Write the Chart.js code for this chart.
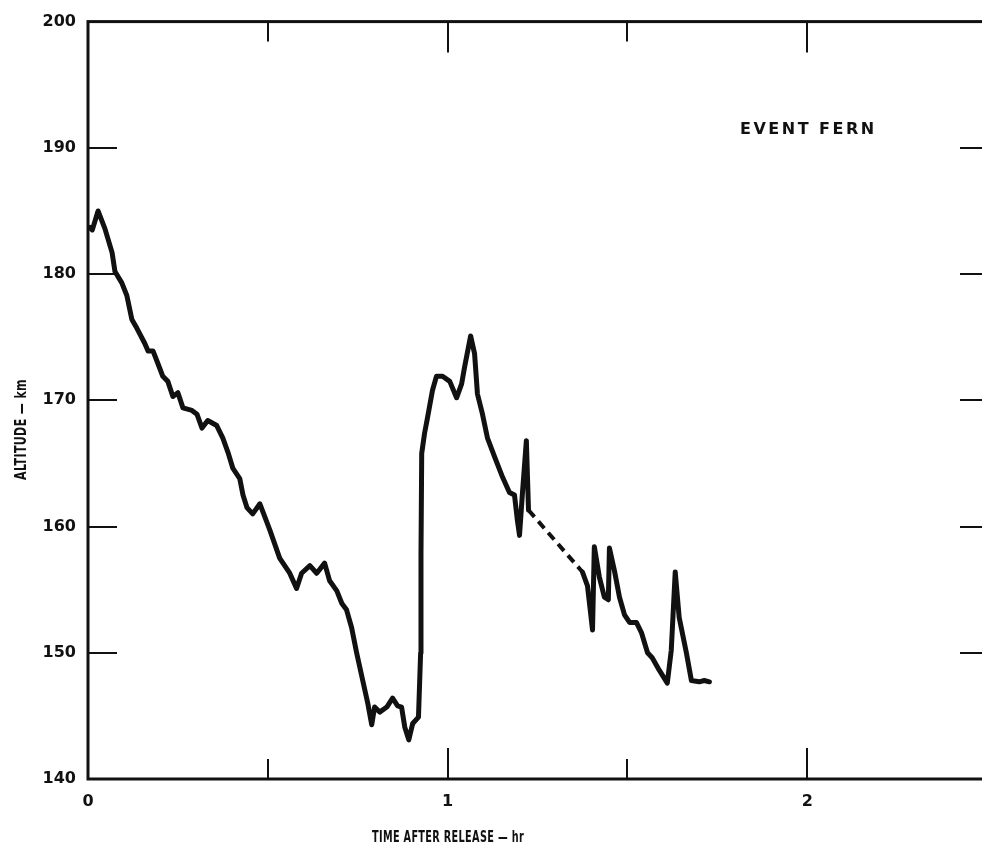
<!DOCTYPE html>
<html>
<head>
<meta charset="utf-8">
<script src="https://cdn.jsdelivr.net/npm/chart.js@4"></script>
<style>
  html, body { margin: 0; padding: 0; background: #fff; overflow: hidden; }
  #wrap { position: absolute; left: 0; top: 0; width: 1000px; height: 847px; }
</style>
</head>
<body>
<div id="wrap"><canvas id="myChart" width="1000" height="847"></canvas></div>
<script>
'use strict'

// altitude trace, time in hours after release, altitude in km (null = dashed gap)
const timeHr = [
  0.005, 0.012, 0.028, 0.047, 0.067, 0.075, 0.094, 0.108, 0.122, 0.136,
  0.158, 0.167, 0.181, 0.200, 0.208, 0.222, 0.236, 0.250, 0.264, 0.289,
  0.303, 0.317, 0.333, 0.358, 0.375, 0.389, 0.403, 0.422, 0.431, 0.442,
  0.458, 0.478, 0.506, 0.533, 0.561, 0.580, 0.594, 0.617, 0.636, 0.658,
  0.672, 0.692, 0.706, 0.719, 0.733, 0.747, 0.764, 0.778, 0.789, 0.797,
  0.811, 0.831, 0.847, 0.861, 0.872, 0.881, 0.892, 0.903, 0.919, 0.925,
  0.926, 0.928, 0.936, 0.944, 0.958, 0.969, 0.986, 1.006, 1.025, 1.039,
  1.047, 1.064, 1.075, 1.083, 1.097, 1.111, 1.131, 1.153, 1.172, 1.186,
  1.194, 1.200, 1.208, 1.219, 1.225,
  1.300,
  1.375, 1.389, 1.403, 1.408, 1.422, 1.436, 1.447, 1.450, 1.464, 1.478,
  1.492, 1.506, 1.525, 1.539, 1.556, 1.569, 1.589, 1.611, 1.622, 1.633,
  1.644, 1.664, 1.678, 1.700, 1.714, 1.728
]
const altitudeKm = [
  183.7, 183.5, 185.0, 183.6, 181.7, 180.2, 179.3, 178.3, 176.4, 175.7,
  174.5, 173.9, 173.9, 172.5, 171.9, 171.5, 170.3, 170.6, 169.4, 169.2,
  168.9, 167.8, 168.4, 168.0, 167.0, 165.9, 164.6, 163.8, 162.5, 161.5,
  161.0, 161.8, 159.7, 157.5, 156.3, 155.1, 156.3, 156.9, 156.3, 157.1,
  155.7, 154.9, 153.9, 153.4, 152.0, 150.0, 147.8, 146.0, 144.3, 145.7,
  145.3, 145.7, 146.4, 145.8, 145.7, 144.1, 143.1, 144.4, 144.9, 150.0,
  157.9, 165.8, 167.4, 168.6, 170.8, 171.9, 171.9, 171.5, 170.2, 171.3,
  172.6, 175.1, 173.7, 170.5, 168.9, 167.0, 165.5, 163.9, 162.7, 162.5,
  160.5, 159.3, 162.6, 166.8, 161.3,
  null,
  156.4, 155.3, 151.8, 158.4, 156.0, 154.4, 154.2, 158.3, 156.5, 154.4,
  153.0, 152.4, 152.4, 151.6, 150.0, 149.6, 148.6, 147.6, 150.2, 156.4,
  152.8, 150.0, 147.8, 147.7, 147.8, 147.7
]

// dashed stretch where the trace was not observed
const gapTimeHr = [1.225, 1.375]
const gapAltitudeKm = [161.3, 156.4]

const xTicks = [0, 0.5, 1, 1.5, 2, 2.5]
const xLabels = ['0', '', '1', '', '2', '']
const yTicks = [140, 150, 160, 170, 180, 190, 200]

const toPoints = (xs, ys) => xs.map((x, i) => ({x: x, y: ys[i]}))

const ink = '#111'
const labelFont = 'DejaVu Sans'

// draw text squeezed to a given width, like the narrow lettering of the original
function fitText(ctx, text, x, y, width) {
  const w = ctx.measureText(text).width
  ctx.save()
  ctx.translate(x, y)
  ctx.scale(width / w, 1)
  ctx.fillText(text, 0, 0)
  ctx.restore()
}

const framePlugin = {
  id: 'frame',
  afterDraw(chart) {
    const ctx = chart.ctx
    const a = chart.chartArea
    const xs = chart.scales.x
    const ys = chart.scales.y
    ctx.save()
    ctx.strokeStyle = ink
    ctx.lineWidth = 3
    ctx.strokeRect(a.left, a.top, a.right - a.left, a.bottom - a.top)

    ctx.lineWidth = 2
    ctx.beginPath()
    yTicks.forEach(v => {
      if (v === 140 || v === 200) return
      const py = Math.round(ys.getPixelForValue(v))
      ctx.moveTo(a.left, py); ctx.lineTo(a.left + 29, py)
      ctx.moveTo(a.right, py); ctx.lineTo(a.right - 27, py)
    })
    xTicks.forEach(v => {
      if (v === 0 || v === 2.5) return
      const px = Math.round(xs.getPixelForValue(v))
      const len = Number.isInteger(v) ? 31 : 20
      ctx.moveTo(px, a.bottom); ctx.lineTo(px, a.bottom - len)
      ctx.moveTo(px, a.top); ctx.lineTo(px, a.top + len)
    })
    ctx.stroke()

    ctx.fillStyle = ink
    ctx.textBaseline = 'alphabetic'
    ctx.textAlign = 'left'
    ctx.font = 'bold 16px "' + labelFont + '"'
    ctx.letterSpacing = '2.5px'
    ctx.fillText('EVENT FERN', 740, 134)

    ctx.font = 'bold 15px "' + labelFont + '"'
    ctx.letterSpacing = '0.5px'
    ctx.textAlign = 'left'
    fitText(ctx, 'TIME AFTER RELEASE \u2014 hr', 372, 842, 152)

    ctx.translate(26, 480)
    ctx.rotate(-Math.PI / 2)
    fitText(ctx, 'ALTITUDE \u2014 km', 0, 0, 101)
    ctx.restore()
  }
}

const ctx = document.getElementById('myChart')

new Chart(ctx, {
  type: 'scatter',
  data: {
    datasets: [{
      data: toPoints(timeHr, altitudeKm),
      showLine: true,
      spanGaps: false,
      borderColor: ink,
      borderWidth: 5,
      borderJoinStyle: 'round',
      borderCapStyle: 'round',
      pointRadius: 0,
      tension: 0
    }, {
      data: toPoints(gapTimeHr, gapAltitudeKm),
      showLine: true,
      borderColor: ink,
      borderWidth: 4,
      borderDash: [9, 6],
      pointRadius: 0
    }]
  },
  plugins: [framePlugin],
  options: {
    responsive: false,
    animation: false,
    devicePixelRatio: 1,
    layout: {padding: {top: 20, right: 11, left: 0, bottom: 0}},
    plugins: {legend: {display: false}, tooltip: {enabled: false}},
    scales: {
      x: {
        type: 'linear',
        min: 0,
        max: 2.5,
        afterBuildTicks: s => { s.ticks = xTicks.map(v => ({value: v})) },
        afterFit: s => { s.height = 68 },
        grid: {display: false, drawTicks: false},
        border: {display: false},
        ticks: {
          padding: 13,
          color: ink,
          maxRotation: 0,
          autoSkip: false,
          font: {family: labelFont, weight: 'bold', size: 16},
          callback: (v) => xLabels[xTicks.indexOf(v)] ?? ''
        }
      },
      y: {
        min: 140,
        max: 200,
        afterBuildTicks: s => { s.ticks = yTicks.map(v => ({value: v})) },
        afterFit: s => { s.width = 88 },
        grid: {display: false, drawTicks: false},
        border: {display: false},
        ticks: {
          padding: 12,
          color: ink,
          font: {family: labelFont, weight: 'bold', size: 16}
        }
      }
    }
  }
})
</script>
</body>
</html>
